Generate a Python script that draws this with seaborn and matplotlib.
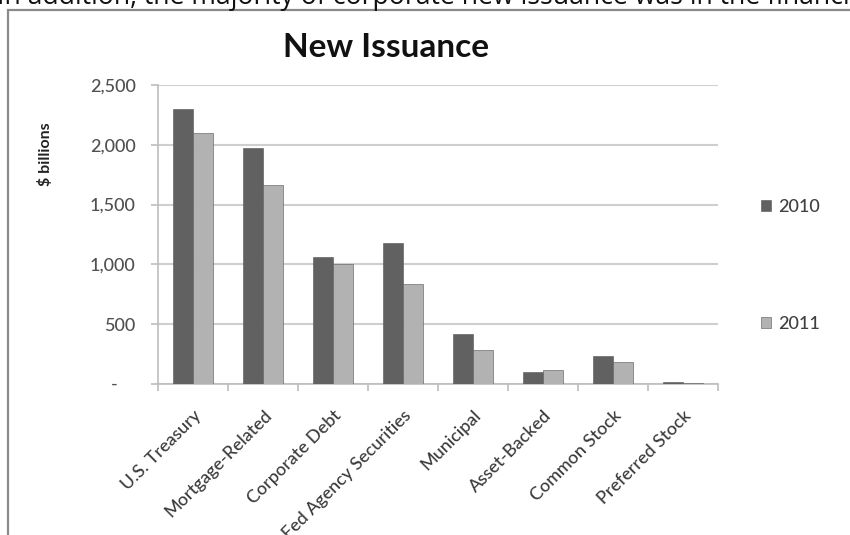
import matplotlib
matplotlib.use("Agg")
import matplotlib.pyplot as plt
from matplotlib.patches import Rectangle
from matplotlib.ticker import FixedLocator, FuncFormatter
import matplotlib.transforms as mtransforms
import seaborn as sns
import pandas as pd

# New issuance by category, $ billions
categories = ["U.S. Treasury", "Mortgage-Related", "Corporate Debt",
              "Fed Agency Securities", "Municipal", "Asset-Backed",
              "Common Stock", "Preferred Stock"]
years = ["2010", "2011"]
issuance_2010 = [2300, 1970, 1065, 1175, 420, 100, 230, 18]
issuance_2011 = [2100, 1660, 1000, 835, 285, 120, 185, 8]
y_ticks = [0, 500, 1000, 1500, 2000, 2500]

df = pd.DataFrame({
    "category": categories * 2,
    "year": [years[0]] * len(categories) + [years[1]] * len(categories),
    "value": issuance_2010 + issuance_2011,
})

sns.set_theme(style="white")
plt.rcParams["font.family"] = ["Lato", "DejaVu Sans"]

W, H = 850, 535
fig = plt.figure(figsize=(W / 100, H / 100), dpi=100)
fig.patch.set_facecolor("white")

def fx(px):
    return px / W

def fy(py):
    return 1 - py / H

# chart frame
fig.patches.append(Rectangle((fx(8), fy(560)), fx(900), (560 - 10) / H,
                             transform=fig.transFigure, fill=False,
                             edgecolor="#8a8a8a", linewidth=1.6, zorder=0))

# line of surrounding document text
fig.text(fx(-3), fy(4), "In addition, the majority of corporate new issuance was in the financial sector.",
         fontsize=19.2, family=["Open Sans", "DejaVu Sans"], color="#111111",
         ha="left", va="baseline")

ax = fig.add_axes([fx(158), fy(384), fx(718) - fx(158), (384 - 85) / H])

palette = {"2010": "#616161", "2011": "#b2b2b2"}
sns.barplot(data=df, x="category", y="value", hue="year", hue_order=years,
            order=categories, palette=palette, width=0.56, gap=0,
            saturation=1, ax=ax, edgecolor="#555555", linewidth=0.4,
            zorder=3)

ax.set_xlim(-0.5, len(categories) - 0.5)
ax.set_ylim(0, 2500)
ax.set_xlabel("")
ax.set_ylabel("")

# gridlines
ax.yaxis.set_major_locator(FixedLocator(y_ticks))
ax.yaxis.grid(True, color="#cfcfcf", linewidth=1.5, zorder=0)
ax.xaxis.grid(False)
ax.set_axisbelow(True)

for side in ["top", "right"]:
    ax.spines[side].set_visible(False)
for side in ["left", "bottom"]:
    ax.spines[side].set_color("#bdbdbd")
    ax.spines[side].set_linewidth(1.2)

ax.yaxis.set_major_formatter(FuncFormatter(lambda v, p: "-    " if v == 0 else f"{int(v):,}"))
ax.tick_params(axis="y", which="major", left=True, length=5, width=1.2,
               color="#bdbdbd", pad=11, labelsize=13)
for lbl in ax.get_yticklabels():
    lbl.set_color("#505050")
    lbl.set_fontweight("medium")

# category boundary ticks below the axis
ax.xaxis.set_minor_locator(FixedLocator([i - 0.5 for i in range(len(categories) + 1)]))
ax.tick_params(axis="x", which="minor", bottom=True, length=5, width=1.2, color="#bdbdbd")
ax.tick_params(axis="x", which="major", bottom=False, length=0, pad=0,
               labelsize=12.9)
ax.set_xticks(range(len(categories)))
ax.set_xticklabels(categories, rotation=45, ha="right", va="center",
                   rotation_mode="anchor", color="#3a3a3a", fontweight="medium")
offset = mtransforms.ScaledTranslation(6 / 100, -29 / 100, fig.dpi_scale_trans)
for lbl in ax.get_xticklabels():
    lbl.set_transform(lbl.get_transform() + offset)

# axis title
fig.text(fx(45), fy(154), "$ billions", rotation=90, ha="center", va="center",
         fontsize=11.5, fontweight="bold", color="#222222")

# chart title
fig.text(fx(386), fy(57), "New Issuance", ha="center", va="baseline",
         fontsize=24, fontweight="bold", color="#111111")

# legend
handles, labels = ax.get_legend_handles_labels()
leg = ax.legend(handles, labels, loc="upper left",
                bbox_to_anchor=(fx(761), fy(199)), bbox_transform=fig.transFigure,
                frameon=False, fontsize=13, labelcolor="#404040",
                handlelength=0.56, handleheight=0.56, handletextpad=0.4,
                labelspacing=5.6, borderpad=0, borderaxespad=0)
for t in leg.get_texts():
    t.set_fontweight("medium")

fig.savefig("out.png", dpi=100, facecolor="white")
